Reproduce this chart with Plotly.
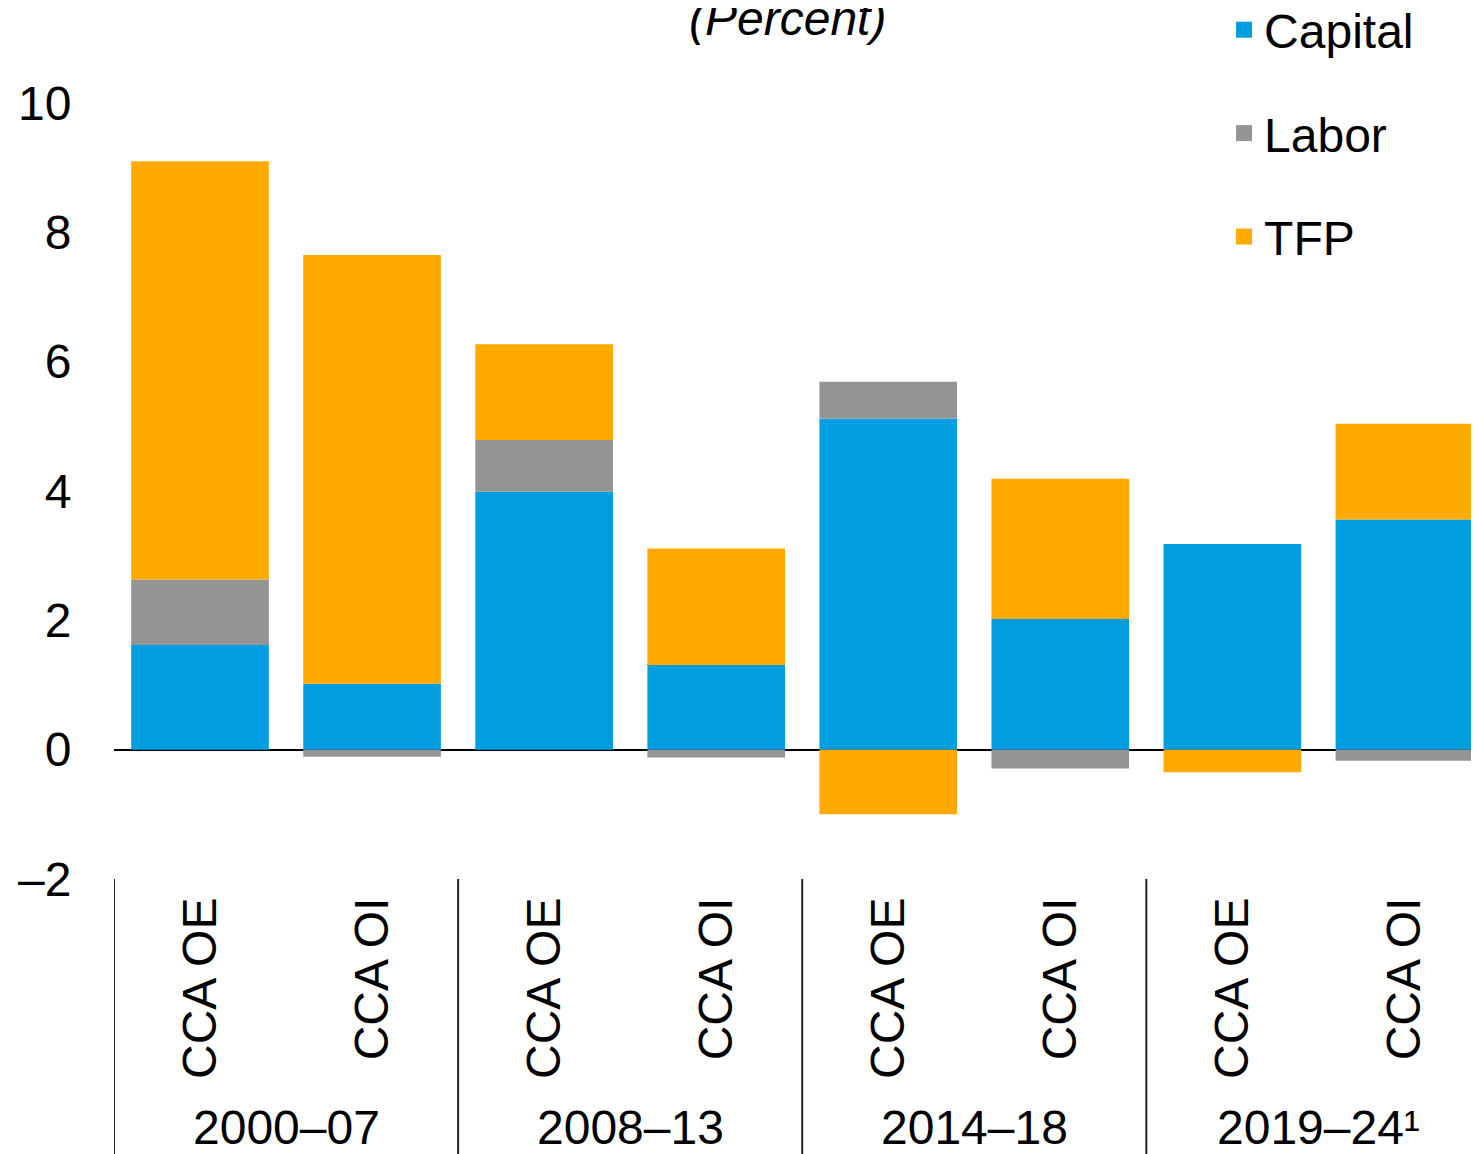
import plotly.graph_objects as go

periods = ["2000–07", "2008–13", "2014–18", "2019–24¹"]
groups = ["CCA OE", "CCA OI"]
categories = ["CCA OE", "CCA OI", "CCA OE", "CCA OI", "CCA OE", "CCA OI", "CCA OE", "CCA OI"]

capital = [1.62, 1.02, 3.99, 1.31, 5.12, 2.02, 3.18, 3.56]
labor = [1.01, -0.11, 0.80, -0.12, 0.57, -0.29, 0.00, -0.17]
tfp = [6.47, 6.63, 1.48, 1.80, -1.00, 2.17, -0.35, 1.48]

y_tickvals = [-2, 0, 2, 4, 6, 8, 10]
y_ticktext = ["–2", "0", "2", "4", "6", "8", "10"]

colors = {"Capital": "#009EE0", "Labor": "#949494", "TFP": "#FFAA00"}
FONT = "Liberation Sans, Arial, sans-serif"
FS = 48

xs = list(range(len(categories)))

fig = go.Figure()
series = [("Capital", capital), ("Labor", labor), ("TFP", tfp)]
for name, vals in series:
    fig.add_trace(go.Bar(
        x=xs, y=vals, name=name, legendgroup=name, showlegend=False,
        marker=dict(color=colors[name], line=dict(width=0)),
        width=0.8,
    ))
# legend swatches (square markers)
for name, _ in series:
    fig.add_trace(go.Scatter(
        x=[None], y=[None], mode="markers", name=name, legendgroup=name,
        marker=dict(symbol="square", size=16, color=colors[name]),
        hoverinfo="skip",
    ))

# group dividers and period labels
n_per = len(groups)
for i, p in enumerate(periods):
    fig.add_shape(type="line", xref="x", yref="paper",
                  x0=i * n_per - 0.5, x1=i * n_per - 0.5, y0=0, y1=-0.38,
                  line=dict(color="#222222", width=2))
    fig.add_annotation(x=i * n_per + (n_per - 1) / 2, y=-0.32, xref="x", yref="paper",
                       text=p, showarrow=False, yanchor="middle",
                       font=dict(family=FONT, size=FS, color="black"))

fig.add_annotation(text="<i>(Percent)</i>", x=0.4904, xref="paper", y=1.109, yref="paper",
                   showarrow=False, yanchor="middle",
                   font=dict(family=FONT, size=FS, color="black"))

fig.update_layout(
    width=1479, height=1154,
    barmode="relative",
    bargap=0.2,
    plot_bgcolor="white", paper_bgcolor="white",
    margin=dict(l=106, r=0, t=95, b=283, autoexpand=False),
    font=dict(family=FONT, size=FS, color="black"),
    showlegend=True,
    legend=dict(
        x=0.8085, xanchor="left", y=1.143, yref="paper", yanchor="top",
        traceorder="grouped", tracegroupgap=38,
        font=dict(family=FONT, size=FS, color="black"),
        bgcolor="rgba(0,0,0,0)",
    ),
)
fig.update_xaxes(
    range=[-0.5, 7.48], automargin=False,
    tickmode="array", tickvals=xs, ticktext=categories,
    tickangle=-90, ticks="", ticklabelstandoff=8,
    showgrid=False, zeroline=False, showline=False,
    tickfont=dict(family=FONT, size=FS, color="black"),
)
fig.update_yaxes(
    range=[-2, 10], automargin=False,
    tickmode="array", tickvals=y_tickvals, ticktext=y_ticktext,
    ticks="outside", ticklen=32, tickcolor="rgba(0,0,0,0)",
    showgrid=False, zeroline=True, zerolinecolor="black", zerolinewidth=2,
    showline=False,
    tickfont=dict(family=FONT, size=FS, color="black"),
)

fig.write_html("out.html")
